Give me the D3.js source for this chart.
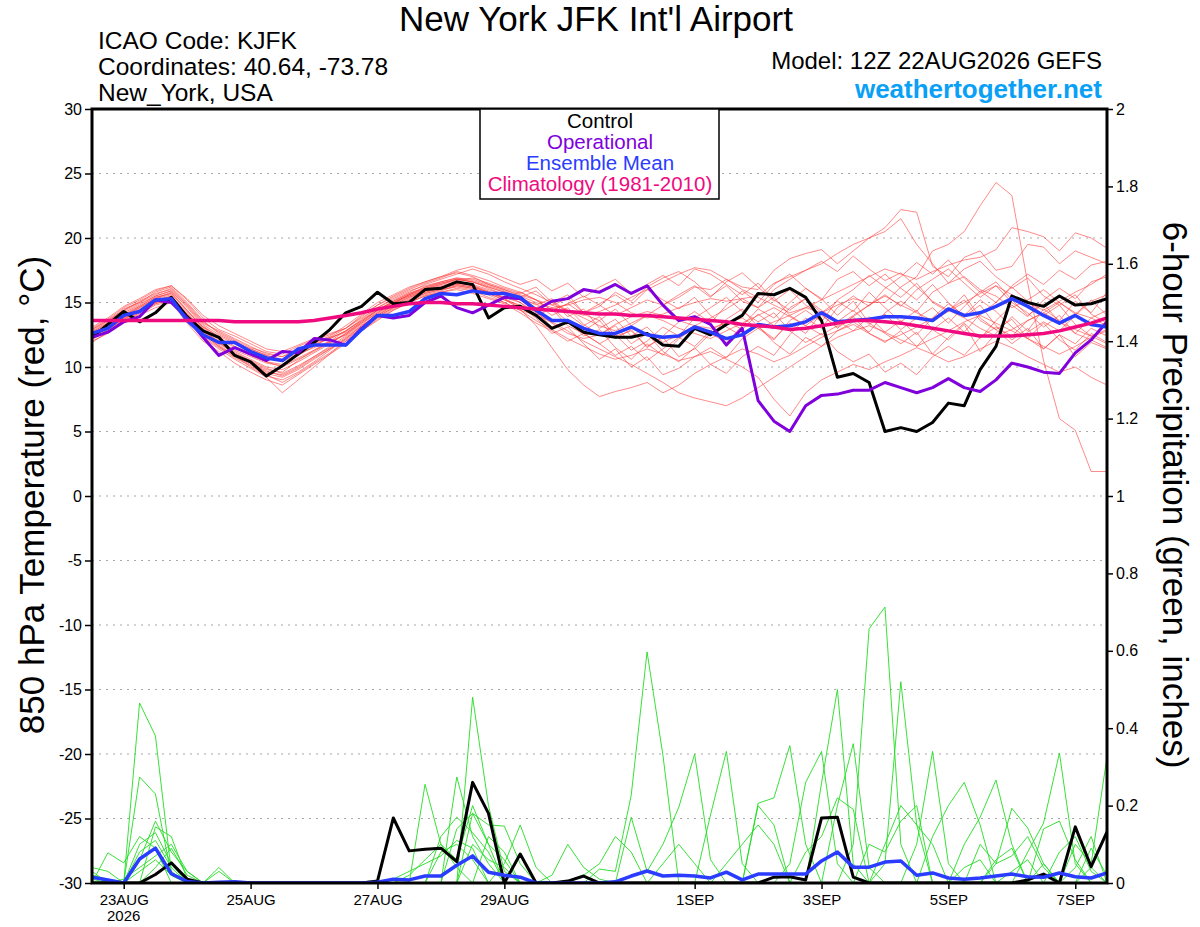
<!DOCTYPE html>
<html><head><meta charset="utf-8">
<script src="https://cdn.jsdelivr.net/npm/d3@7"></script>
<style>
body{margin:0;background:#fff}
svg{display:block;font-family:"Liberation Sans",Arial,Helvetica,sans-serif}
</style>
</head><body>
<svg id="chart" width="1200" height="927"></svg>
<script>
// ---------- DATA ----------
const runStartUTC = Date.UTC(2026, 7, 22, 12);   // 12Z 22AUG2026
const stepHours = 6;
const nSteps = 65;
const xTickDates = ["2026-08-23","2026-08-25","2026-08-27","2026-08-29","2026-09-01","2026-09-03","2026-09-05","2026-09-07"];
const xTickLabels = ["23AUG","25AUG","27AUG","29AUG","1SEP","3SEP","5SEP","7SEP"];
const yearLabel = "2026";
const tempTicks = [30,25,20,15,10,5,0,-5,-10,-15,-20,-25,-30];
const precipTicks = [0,0.2,0.4,0.6,0.8,1,1.2,1.4,1.6,1.8,2];

const controlTemp = [
12.3,13.3,14.3,13.5,14.2,15.4,13.9,12.8,12.3,10.9,10.4,9.3,10.1,
11.0,11.9,12.9,14.2,14.7,15.8,14.9,15.0,16.0,16.1,16.6,16.4,13.8,
14.6,14.7,14.0,13.0,13.5,12.7,12.5,12.3,12.3,12.6,11.7,11.6,13.0,
12.5,13.3,14.0,15.7,15.6,16.1,15.4,13.6,9.2,9.5,8.8,5.0,5.3,
5.0,5.7,7.2,7.0,9.8,11.6,15.5,15.0,14.7,15.5,14.8,14.9,15.3];
const operationalTemp = [
12.3,12.7,13.5,13.9,15.2,15.0,13.8,12.3,10.9,11.5,11.0,10.5,11.2,
11.1,12.2,12.1,11.7,13.0,14.0,13.8,14.0,15.0,15.5,14.6,14.2,14.8,
15.4,15.3,14.4,15.1,15.3,16.0,15.8,16.4,15.7,16.3,14.8,13.6,13.9,
13.3,11.7,13.0,7.4,5.8,5.0,7.0,7.8,7.9,8.2,8.2,8.8,8.4,
8.0,8.4,9.1,8.4,8.1,9.0,10.3,10.0,9.6,9.5,11.1,12.1,13.5];
const meanTemp = [
12.6,13.0,14.0,14.3,15.2,15.3,13.6,12.5,11.9,11.9,11.2,10.7,10.5,
11.4,11.7,11.7,11.7,12.9,14.0,14.0,14.3,15.3,15.7,15.6,15.9,15.7,
15.7,15.4,14.4,13.6,13.6,13.0,12.6,12.6,13.1,12.5,12.3,12.4,13.1,
12.7,12.2,12.5,13.3,13.1,13.2,13.5,14.2,13.5,13.6,13.7,13.9,13.9,
13.8,13.6,14.5,14.0,14.2,14.7,15.3,14.7,14.0,13.4,14.0,13.3,13.1];
const climoTemp = [
13.6,13.6,13.6,13.6,13.6,13.6,13.6,13.6,13.6,13.5,13.5,13.5,13.5,
13.5,13.6,13.8,14.0,14.2,14.5,14.7,14.9,15.0,15.0,14.9,14.9,14.8,
14.7,14.6,14.5,14.4,14.3,14.2,14.1,14.1,14.0,14.0,13.9,13.8,13.7,
13.6,13.5,13.3,13.2,13.1,12.9,13.0,13.2,13.4,13.6,13.6,13.5,13.4,
13.2,13.0,12.8,12.6,12.4,12.4,12.4,12.5,12.6,12.8,13.1,13.4,13.8];

const tm01 = [12.9,13.6,14.5,15.0,15.8,16.2,15.0,13.6,12.6,12.0,11.4,10.9,10.6,
11.2,11.9,12.4,13.2,14.1,15.0,15.6,16.2,16.6,17.0,17.3,17.0,16.4,
16.0,15.5,15.0,14.6,14.8,15.2,15.4,15.0,14.2,13.8,14.1,14.6,15.0,
15.3,15.1,15.3,15.5,16.5,17.0,17.5,18.0,18.8,19.5,20.0,20.8,22.2,
22.0,17.8,17.0,18.5,19.0,17.5,17.8,19.5,19.3,18.0,19.0,18.5,18.0];
const tm02 = [12.4,13.2,14.0,14.6,15.3,15.6,14.0,12.8,12.0,11.0,10.4,9.8,9.6,
10.5,11.3,12.0,12.8,13.6,14.5,15.0,15.6,16.0,16.4,16.8,16.6,16.1,
15.6,15.0,14.2,13.4,12.6,12.2,12.5,13.3,13.9,14.3,14.0,13.6,13.2,
13.0,13.4,13.8,13.0,13.5,14.0,14.6,14.2,14.8,15.3,15.0,15.0,16.2,
17.0,19.0,19.5,20.5,22.5,24.3,23.3,16.5,10.5,6.0,5.1,1.9,1.9];
const tm03 = [12.2,12.8,13.6,14.2,14.9,15.3,13.8,12.4,11.5,10.8,10.2,9.5,9.2,
9.8,10.6,11.4,12.2,13.2,14.0,14.8,15.4,15.9,16.2,16.5,16.3,15.8,
15.4,15.8,15.2,14.4,14.9,15.5,14.8,14.0,14.6,15.2,14.8,15.4,16.2,
16.0,16.8,16.2,16.0,17.5,18.4,18.8,19.1,18.0,19.0,20.0,20.5,21.5,
19.5,18.0,16.5,17.0,16.0,15.5,14.6,15.2,16.0,15.0,14.2,13.8,13.2];
const tm04 = [12.7,13.4,14.3,14.9,15.5,15.9,14.6,13.2,12.3,11.6,11.0,10.4,10.2,
10.9,11.6,12.3,13.0,14.0,14.8,15.4,16.0,16.5,16.9,17.4,17.1,16.7,
16.2,15.8,15.2,14.8,14.4,14.0,14.3,14.8,15.4,16.0,16.6,17.2,17.7,
17.5,16.8,16.0,15.4,14.8,14.2,14.6,15.2,15.8,16.4,17.0,17.6,17.2,
16.8,17.4,17.9,18.3,18.5,19.1,20.8,20.5,20.1,19.0,20.4,20.0,19.2];
const tm05 = [12.0,12.6,13.4,14.0,14.6,15.0,13.4,12.0,11.2,10.3,9.6,9.0,8.6,
9.4,10.2,11.0,11.8,12.8,13.6,14.4,15.0,15.5,15.8,16.1,15.9,15.4,
15.0,14.4,13.6,12.9,12.2,11.6,11.0,10.6,10.9,11.4,11.0,10.5,10.8,
11.2,10.6,10.0,9.2,7.5,6.2,8.0,9.0,9.6,10.2,9.8,10.4,10.9,
11.5,11.0,10.4,10.8,11.4,12.0,11.5,10.8,10.2,9.6,10.0,9.2,8.6];
const tm06 = [12.5,13.1,13.9,14.5,15.2,15.5,14.2,12.9,11.9,11.2,10.6,10.0,9.8,
10.4,11.1,11.8,12.6,13.4,14.2,14.9,15.5,16.0,16.3,16.6,16.3,15.9,
15.3,14.5,13.2,11.5,9.8,8.6,7.7,8.1,8.4,8.8,8.0,8.6,9.5,
10.2,10.8,11.4,11.0,10.4,10.9,11.6,12.3,12.8,13.3,12.6,12.0,12.5,
13.1,13.8,14.4,13.8,13.0,12.4,12.9,13.6,14.2,13.5,12.9,12.4,11.8];
const tm07 = [12.3,13.0,13.8,14.3,15.0,15.4,13.9,12.6,11.7,10.9,10.0,9.3,9.0,
9.6,10.4,11.3,12.2,13.0,13.9,14.6,15.2,15.7,16.0,16.2,16.0,15.6,
15.0,14.4,14.0,13.5,12.8,12.0,11.4,10.8,10.2,9.5,8.8,8.0,7.6,
7.3,7.0,7.6,8.4,9.2,10.0,10.8,11.6,12.3,12.8,13.2,12.7,12.1,
11.6,12.2,12.8,13.5,14.0,13.4,12.8,12.2,11.6,11.0,11.6,12.3,12.8];
const tm08 = [13.0,13.7,14.6,15.2,15.9,16.3,15.2,13.8,12.9,12.4,11.8,11.2,11.0,
11.6,12.1,12.5,13.0,13.8,14.6,15.2,15.8,16.4,16.8,17.2,17.6,17.2,
16.6,16.1,15.6,15.0,14.4,13.8,13.2,12.8,13.4,14.0,13.6,13.0,12.6,
12.2,12.8,13.4,14.0,14.6,13.9,13.2,12.5,13.2,14.0,14.8,15.5,14.8,
14.2,13.6,14.3,15.0,15.7,16.3,15.6,15.0,14.4,15.1,15.8,16.4,17.2];
const tm09 = [11.9,12.7,13.5,14.1,14.8,15.1,13.6,12.3,11.4,10.6,9.9,9.2,8.0,
9.0,10.0,11.0,12.0,12.9,13.8,14.5,15.1,15.6,15.9,16.3,16.1,15.7,
15.2,14.8,14.3,13.1,13.6,12.4,12.9,11.5,10.6,11.8,10.9,12.2,13.0,
12.4,13.7,14.5,13.1,12.2,13.4,12.6,14.2,15.1,14.3,15.8,14.6,13.5,
14.4,12.9,12.1,13.3,11.2,12.6,13.9,12.8,14.5,13.6,15.1,14.2,15.8];
const tm10 = [12.6,13.3,14.1,14.7,15.4,15.7,14.3,13.1,12.4,11.8,11.3,10.8,10.4,
11.0,11.5,12.0,12.5,13.3,14.2,14.9,15.6,16.2,16.6,16.9,16.7,16.3,
15.9,15.4,14.8,15.3,14.1,13.2,13.9,12.4,12.8,11.6,12.3,10.8,11.4,
12.6,11.9,13.2,14.5,13.8,15.0,16.1,15.2,16.8,17.4,16.3,17.2,16.1,
15.2,16.4,15.0,13.9,14.8,13.2,12.1,13.0,11.4,12.5,10.8,11.9,11.4];
const tm11 = [12.8,13.5,14.4,15.1,15.7,16.0,14.8,13.4,12.8,12.2,11.6,11.0,10.8,
11.4,11.9,12.3,12.7,13.5,14.4,15.1,15.7,16.1,16.4,16.7,16.9,16.5,
16.1,15.7,16.2,15.0,15.6,14.2,14.7,15.8,15.1,16.2,16.9,17.4,16.6,
15.5,16.3,15.1,14.6,15.4,14.0,13.2,14.1,13.0,13.9,14.8,15.6,14.7,
16.0,16.8,17.6,16.5,15.4,16.3,15.0,14.2,13.1,14.0,12.6,12.1,11.5];
const tm12 = [12.1,12.9,13.7,14.4,15.1,15.5,14.0,12.7,11.8,11.1,10.5,9.9,9.5,
10.1,10.8,11.5,12.3,13.1,14.0,14.7,15.3,15.8,16.1,16.4,16.2,15.8,
15.4,15.0,14.0,14.6,13.5,12.8,13.6,12.2,12.9,11.5,12.4,13.5,14.3,
13.4,14.8,15.9,15.0,16.4,17.2,16.1,15.3,14.0,15.1,13.4,12.6,11.8,
12.7,11.0,12.3,13.4,12.2,13.6,14.8,13.9,15.2,16.1,15.3,16.6,17.0];
const tm13 = [12.4,13.1,13.9,14.6,15.3,15.8,14.4,13.0,12.1,11.3,10.8,10.3,10.1,
10.7,11.3,11.9,12.5,13.4,14.3,15.0,15.5,15.9,16.2,16.5,16.4,16.0,
15.6,15.2,14.9,14.0,14.6,13.3,12.5,13.2,11.8,12.6,11.2,10.4,11.5,
10.2,9.5,10.8,11.6,10.9,12.5,13.8,13.0,14.6,15.5,14.7,16.1,17.0,
18.1,17.2,18.3,16.9,15.8,16.6,15.2,14.0,14.9,13.5,12.6,13.8,14.4];
const tm14 = [12.7,13.4,14.2,14.8,15.5,15.9,14.7,13.3,12.5,11.9,11.4,10.9,10.5,
11.1,11.7,12.2,12.8,13.7,14.6,15.3,15.9,16.3,16.6,16.9,16.8,16.4,
16.0,15.6,15.2,14.4,14.9,14.1,13.6,14.5,13.2,14.0,14.8,15.6,16.3,
15.4,16.6,17.3,16.2,15.1,16.0,14.8,14.0,13.1,13.9,12.6,11.9,12.8,
11.6,12.9,13.8,12.7,14.1,15.0,16.2,15.1,14.0,14.8,13.3,12.4,12.9];
const tm15 = [12.2,12.9,13.6,14.2,14.9,15.2,13.7,12.5,11.6,10.9,10.3,9.6,9.4,
10.0,10.8,11.6,12.4,13.2,14.1,14.8,15.4,15.8,16.1,16.4,16.2,15.8,
15.3,14.7,13.8,12.6,13.1,11.8,10.6,11.4,10.0,10.8,9.4,9.9,10.8,
11.5,10.7,12.2,13.0,12.1,13.6,14.4,13.5,15.2,16.0,17.1,16.2,15.4,
16.5,15.0,14.3,15.6,13.8,12.9,13.7,12.2,11.4,12.5,11.8,13.0,12.4];
const tm16 = [12.9,13.6,14.4,15.0,15.6,16.1,14.9,13.5,12.7,12.1,11.5,11.1,10.8,
11.3,11.8,12.2,12.8,13.6,14.4,15.0,15.6,16.1,16.5,16.8,16.6,16.2,
15.8,15.4,15.9,14.8,15.3,14.2,14.9,15.6,14.8,16.0,15.2,14.5,15.4,
14.0,13.1,12.4,13.2,11.9,11.0,12.3,11.6,12.8,13.5,12.7,14.2,15.1,
14.3,15.8,16.5,17.6,18.2,17.0,16.1,16.9,15.5,14.8,15.6,14.1,13.4];
const tm17 = [12.3,13.0,13.8,14.4,15.1,15.4,14.1,12.8,11.9,11.0,10.3,9.7,9.3,
9.9,10.7,11.4,12.1,13.0,13.9,14.6,15.2,15.7,16.0,16.3,16.1,15.7,
15.2,14.6,14.0,14.5,13.2,12.6,11.8,12.5,11.3,12.0,13.1,12.4,13.8,
14.6,15.4,14.3,13.5,14.2,12.8,11.9,12.6,11.2,10.4,11.0,9.6,10.3,
9.4,10.8,11.6,10.9,12.3,13.1,12.4,13.6,14.2,15.0,14.1,15.2,14.0];
const tm18 = [12.6,13.2,14.0,14.7,15.4,15.7,14.4,13.1,12.2,11.5,10.9,10.4,10.0,
10.6,11.2,11.9,12.6,13.5,14.4,15.1,15.7,16.2,16.5,16.8,16.6,16.2,
15.8,15.4,14.6,15.1,13.9,14.5,13.0,13.7,12.4,13.1,11.9,12.5,13.2,
13.8,14.5,15.3,14.6,16.0,16.8,17.5,18.2,17.4,18.6,17.6,16.7,17.3,
16.2,15.1,14.4,15.2,13.6,12.9,11.8,12.7,13.5,12.8,14.0,15.1,15.6];
const tm19 = [12.5,13.0,13.7,14.3,15.0,15.3,13.9,12.6,11.6,10.7,10.1,9.4,8.8,
9.5,10.3,11.1,12.0,12.8,13.7,14.4,15.0,15.5,15.8,16.0,15.7,15.3,
14.9,14.2,13.4,12.8,12.0,12.6,11.8,10.9,11.6,10.5,11.4,12.3,11.6,
12.8,13.6,12.9,14.1,13.2,14.6,15.3,14.4,13.6,12.8,13.9,12.7,13.6,
12.5,13.8,14.9,14.0,15.2,14.3,13.1,12.2,13.4,12.1,11.3,12.6,11.9];
const tm20 = [13.1,13.8,14.7,15.3,16.0,16.3,15.3,14.0,13.2,12.6,12.0,11.4,11.2,
11.7,12.2,12.6,13.0,13.9,14.8,15.5,16.1,16.6,17.0,17.5,17.8,17.4,
16.9,16.4,16.8,15.9,16.5,15.4,16.2,16.8,15.7,16.4,17.1,16.3,17.6,
17.2,16.4,15.6,16.5,15.2,14.4,15.3,14.2,13.5,14.4,13.3,14.1,12.9,
13.8,14.6,13.4,14.7,15.9,15.0,16.3,17.2,16.4,17.5,16.8,17.9,18.2];

const controlPrecip = [
0,0,0,0,.022,.052,.01,0,0,0,0,0,0,
0,0,0,0,0,.005,.168,.083,.087,.09,.055,.26,.18,
0,.075,0,0,.005,.018,0,0,0,0,0,0,0,
0,0,0,0,.015,.016,.008,.168,.17,.015,0,0,0,
0,0,0,0,0,0,0,.008,.023,0,.145,.042,.132];
const meanPrecip = [
.015,.008,0,.062,.09,.024,.004,0,.002,.003,0,0,0,
0,0,0,0,0,.002,.01,.008,.018,.018,.046,.07,.028,
.02,.015,0,0,0,0,0,.003,.018,.031,.018,.02,.018,
.013,.028,.008,.023,.023,.023,.023,.057,.08,.041,.041,.054,.057,
.02,.026,.013,.01,.013,.018,.023,.016,.015,.026,.016,.013,.026];

const pm01 = [.02,.01,0,.465,.38,.03,0,0,0,0,0,0,0,
0,0,0,0,0,0,0,0,0,.08,.10,.06,0,
0,0,0,0,0,0,0,0,0,0,0,0,0,
0,.05,.10,.15,.10,0,0,0,0,0,0,0,0,
0,0,0,0,0,0,.03,.06,0,0,0,.04,0];
const pm02 = [0,0,0,.274,.23,.02,0,0,0,0,0,0,0,
0,0,0,0,0,0,0,.02,.06,.10,.06,.20,.10,
0,0,0,.02,.10,.04,.01,0,0,0,0,0,0,
0,0,0,0,0,0,0,0,0,0,0,0,0,
0,0,0,0,0,0,0,0,0,0,0,0,0];
const pm03 = [0,0,0,0,.145,.12,.01,0,0,0,0,0,0,
0,0,0,0,0,0,0,0,0,0,.14,.18,.10,
.06,0,0,0,0,0,0,0,0,0,.05,.10,.05,
0,0,0,0,0,0,0,0,0,0,0,0,0,
0,0,0,0,0,0,0,0,0,.08,.12,.03,0];
const pm04 = [0,0,0,.10,.13,.05,0,0,0,0,0,0,0,
0,0,0,0,0,0,0,0,0,0,0,.10,.06,
.04,0,0,0,0,0,0,0,0,0,0,0,0,
0,0,0,0,0,0,0,0,0,0,0,.10,.20,
.15,.10,0,0,0,0,0,0,0,0,0,0,0];
const pm05 = [0,.078,.052,.12,.09,0,0,0,0,0,0,0,0,
0,0,0,0,0,0,0,0,0,0,0,0,.12,
.08,0,0,0,0,0,0,0,0,0,0,0,0,
0,0,0,0,0,0,0,0,0,0,0,0,0,
0,.12,.20,.26,.15,0,0,0,0,0,0,0,0];
const pm06 = [0,0,0,.06,.16,.08,.03,0,0,0,0,0,0,
0,0,0,0,0,0,.01,.03,.05,.07,.11,.09,0,
0,0,0,0,0,0,0,0,0,0,0,0,0,
0,0,0,0,0,0,0,0,0,0,0,0,0,
0,0,0,0,0,0,0,0,.14,.16,.06,0,0];
const pm07 = [.04,.03,0,.08,.11,.04,0,0,0,0,0,0,0,
0,0,0,0,0,0,0,0,0,0,0,0,0,
0,0,0,0,0,0,0,0,0,0,0,0,0,
0,0,0,0,0,0,.08,.12,.22,.19,0,0,0,
0,0,0,.04,.06,0,0,0,0,0,0,0,0];
const pm08 = [.02,0,.01,.04,.07,.10,.03,0,0,0,0,0,0,
0,0,0,0,0,0,0,0,0,0,0,0,0,
0,0,0,0,0,0,0,0,0,0,0,0,0,
0,0,0,0,0,0,0,0,0,0,.10,.08,.16,
.20,0,0,0,0,0,0,0,0,0,0,0,0];
const pm09 = [0,0,0,.03,.06,.02,0,0,.04,0,0,0,0,
0,0,0,0,0,0,0,0,0,0,0,0,0,
0,0,0,0,0,.02,.05,.12,.08,0,0,0,0,
0,0,0,.20,.15,0,0,0,0,0,0,0,0,
0,0,0,0,0,0,0,0,0,0,0,0,0];
const pm10 = [0,0,0,0,.04,.09,.02,0,.03,0,0,0,0,
0,0,0,0,0,0,0,0,0,0,0,0,0,
0,0,0,0,0,0,0,0,0,0,0,0,0,
0,0,0,0,0,0,0,0,0,0,0,0,0,
0,0,0,0,.10,.05,.07,.12,.04,0,0,0,0];
const pm11 = [.03,0,0,0,0,0,0,0,0,0,0,0,0,
0,0,0,0,0,0,0,0,.255,.10,.04,0,0,
0,0,0,0,0,0,0,0,0,0,0,0,0,
0,0,0,0,0,.05,.26,.34,.05,0,0,0,0,
0,0,0,0,0,0,0,0,0,0,0,0,0];
const pm12 = [.01,0,0,0,0,0,0,0,0,0,0,0,0,
0,0,0,0,0,0,0,0,0,0,.274,.12,.05,
0,0,0,0,0,0,0,0,0,0,0,0,0,
0,0,0,0,0,0,0,.258,.50,.05,0,0,0,
0,0,0,0,0,0,0,0,.05,0,0,.09,.02];
const pm13 = [0,0,0,0,0,0,0,0,0,0,0,0,0,
0,0,0,0,0,0,0,0,0,0,0,.48,.20,
.03,0,0,0,0,0,0,0,0,0,0,0,0,
0,0,0,0,0,0,0,0,.20,.36,.04,0,0,
0,0,0,0,0,0,0,0,0,0,.04,.12,0];
const pm14 = [0,0,0,0,0,0,0,0,0,0,0,0,0,
0,0,0,0,0,0,0,0,0,.12,.17,.13,.08,
0,0,0,0,0,0,0,0,0,0,0,0,0,
0,0,0,0,0,0,0,0,0,.10,.657,.713,.10,
0,0,0,0,0,0,0,0,0,0,0,0,0];
const pm15 = [0,0,0,0,0,0,0,0,0,0,0,0,0,
0,0,0,0,0,0,0,0,0,0,0,.18,.15,
.147,.05,0,0,0,0,0,0,0,0,0,0,0,
0,0,0,0,0,0,0,0,0,0,0,.05,.52,
.15,0,0,0,0,0,0,0,0,0,0,0,0];
const pm16 = [0,0,0,0,0,0,0,0,0,0,0,0,0,
0,0,0,0,0,0,0,0,0,0,0,0,0,
.05,.15,.04,0,0,0,0,0,0,0,0,0,0,
0,0,0,0,0,0,0,0,0,0,0,0,0,
.10,.34,.05,0,0,.06,.09,0,0,0,0,0,0];
const pm17 = [0,0,0,0,0,0,0,0,0,0,0,0,0,
0,0,0,0,0,0,0,0,0,0,0,0,0,
0,0,0,0,0,0,.036,.03,.227,.597,.33,0,0,
0,0,0,0,0,0,0,0,0,0,0,0,0,
0,0,0,.10,.17,.266,.10,0,0,0,0,0,0];
const pm18 = [0,0,0,0,0,0,0,0,0,0,0,0,0,
0,0,0,0,0,0,0,0,0,0,0,0,0,
0,0,0,0,0,0,0,0,.17,.03,.10,.196,.333,
.06,0,0,0,0,0,0,0,0,0,0,0,0,
0,0,0,0,0,.05,.193,.142,.05,0,0,0,0];
const pm19 = [0,0,0,0,0,0,0,0,0,0,0,0,0,
0,0,0,0,0,0,0,0,0,0,0,0,0,
0,0,0,0,0,0,0,0,0,0,0,0,0,
.176,.34,.05,0,0,0,0,0,0,0,0,0,0,
0,0,0,0,0,0,0,.08,.155,.336,.05,0,0];
const pm20 = [0,0,0,0,0,0,0,0,0,0,0,0,0,
0,0,0,0,0,0,0,0,0,0,0,0,0,
0,0,0,0,0,0,0,0,0,0,0,0,0,
0,0,0,.206,.22,.355,.10,0,0,0,0,0,0,
0,0,0,0,0,0,0,0,0,0,.10,.05,.326];

const tempMembers = [tm01,tm02,tm03,tm04,tm05,tm06,tm07,tm08,tm09,tm10,tm11,tm12,tm13,tm14,tm15,tm16,tm17,tm18,tm19,tm20];
const precipMembers = [pm01,pm02,pm03,pm04,pm05,pm06,pm07,pm08,pm09,pm10,pm11,pm12,pm13,pm14,pm15,pm16,pm17,pm18,pm19,pm20];

const legendItems = [
  {label:"Control", color:"#000000"},
  {label:"Operational", color:"#8000dc"},
  {label:"Ensemble Mean", color:"#2a3cff"},
  {label:"Climatology (1981-2010)", color:"#f00a80"}
];

// ---------- CHART ----------
const L = 92, R = 1107, T = 109, B = 883;
const times = d3.range(nSteps).map(i => new Date(runStartUTC + i * stepHours * 3600e3));

const svg = d3.select("#chart");
const x = d3.scaleUtc().domain([times[0], times[nSteps-1]]).range([L, R]);
const yT = d3.scaleLinear().domain([-30, 30]).range([B, T]);
const yP = d3.scaleLinear().domain([0, 2]).range([B, T]);

svg.append("defs").append("clipPath").attr("id","plotclip")
  .append("rect").attr("x",L).attr("y",T).attr("width",R-L).attr("height",B-T);

// gridlines
svg.append("g").selectAll("line")
  .data(tempTicks.filter(d => d > -30 && d < 30))
  .join("line")
  .attr("x1", L).attr("x2", R)
  .attr("y1", d => yT(d)).attr("y2", d => yT(d))
  .attr("stroke", "#a8a8a8").attr("stroke-width", 1.2)
  .attr("stroke-dasharray", "2,5");

const lineT = d3.line().x((d,i) => x(times[i])).y(d => yT(d));
const lineP = d3.line().x((d,i) => x(times[i])).y(d => yP(d));

const plot = svg.append("g").attr("clip-path","url(#plotclip)");

plot.append("g").selectAll("path").data(tempMembers).join("path")
  .attr("d", lineT).attr("fill","none")
  .attr("stroke","#ff3a3a").attr("stroke-opacity",0.75).attr("stroke-width",0.8);

plot.append("g").selectAll("path").data(precipMembers).join("path")
  .attr("d", lineP).attr("fill","none")
  .attr("stroke","#22dd22").attr("stroke-width",0.9);

plot.append("path").datum(controlPrecip).attr("d", lineP).attr("fill","none")
  .attr("stroke","#000").attr("stroke-width",3).attr("stroke-linejoin","round");
plot.append("path").datum(meanPrecip).attr("d", lineP).attr("fill","none")
  .attr("stroke","#2a3cff").attr("stroke-width",3.5).attr("stroke-linejoin","round");

plot.append("path").datum(controlTemp).attr("d", lineT).attr("fill","none")
  .attr("stroke","#000").attr("stroke-width",3).attr("stroke-linejoin","round");
plot.append("path").datum(operationalTemp).attr("d", lineT).attr("fill","none")
  .attr("stroke","#8000dc").attr("stroke-width",3).attr("stroke-linejoin","round");
plot.append("path").datum(meanTemp).attr("d", lineT).attr("fill","none")
  .attr("stroke","#2a3cff").attr("stroke-width",3.5).attr("stroke-linejoin","round");
plot.append("path").datum(climoTemp).attr("d", lineT).attr("fill","none")
  .attr("stroke","#f00a80").attr("stroke-width",3.5).attr("stroke-linejoin","round");

// axes
const fmtP = d => String(+d.toFixed(1));
const axL = svg.append("g").attr("transform",`translate(${L},0)`)
  .call(d3.axisLeft(yT).tickValues(tempTicks).tickSize(7).tickPadding(3).tickFormat(d => String(d)));
const axR = svg.append("g").attr("transform",`translate(${R},0)`)
  .call(d3.axisRight(yP).tickValues(precipTicks).tickSize(6).tickPadding(3).tickFormat(fmtP));
const tickDates = xTickDates.map(s => new Date(s + "T00:00:00Z"));
const axB = svg.append("g").attr("transform",`translate(0,${B})`)
  .call(d3.axisBottom(x).tickValues(tickDates).tickSize(6).tickPadding(5).tickFormat((d,i) => xTickLabels[i]));
[axL, axR, axB].forEach(a => {
  a.select(".domain").remove();
  a.selectAll(".tick line").attr("stroke","#000").attr("stroke-width",1.5);
  a.selectAll(".tick text").attr("fill","#000")
    .style("font-family",'"Liberation Sans",Arial,sans-serif').style("font-size","16px");
});
axB.selectAll(".tick text").style("font-size","15px");
svg.append("text").attr("x", x(tickDates[0])).attr("y", 921)
  .attr("text-anchor","middle").style("font-size","15px").text(yearLabel);

// frame
svg.append("rect").attr("x",L).attr("y",T).attr("width",R-L).attr("height",B-T)
  .attr("fill","none").attr("stroke","#000").attr("stroke-width",3);

// legend
const lg = svg.append("g");
lg.append("rect").attr("x",480).attr("y",T).attr("width",239).attr("height",90)
  .attr("fill","#fff").attr("stroke","#000").attr("stroke-width",1.5);
lg.selectAll("text").data(legendItems).join("text")
  .attr("x", 600).attr("y", (d,i) => 128 + i*21)
  .attr("text-anchor","middle").attr("fill", d => d.color)
  .style("font-size","20.5px").text(d => d.label);

// titles
svg.append("text").attr("x",596).attr("y",31).attr("text-anchor","middle")
  .style("font-size","35px").text("New York JFK Int'l Airport");
const info = ["ICAO Code: KJFK","Coordinates: 40.64, -73.78","New_York, USA"];
svg.append("g").selectAll("text").data(info).join("text")
  .attr("x",98).attr("y",(d,i)=>49 + i*26).style("font-size","24.5px").text(d=>d);
svg.append("text").attr("x",1102).attr("y",69).attr("text-anchor","end")
  .style("font-size","24px").text("Model: 12Z 22AUG2026 GEFS");
svg.append("text").attr("x",1102).attr("y",98).attr("text-anchor","end")
  .style("font-size","26px").style("font-weight","bold").attr("fill","#0aa0f5")
  .text("weathertogether.net");

// axis titles
svg.append("text").attr("transform","translate(44,495) rotate(-90)")
  .attr("text-anchor","middle").style("font-size","35px")
  .text("850 hPa Temperature (red, °C)");
svg.append("text").attr("transform","translate(1163,495) rotate(90)")
  .attr("text-anchor","middle").style("font-size","35px")
  .text("6-hour Precipitation (green, inches)");
</script>
</body></html>
